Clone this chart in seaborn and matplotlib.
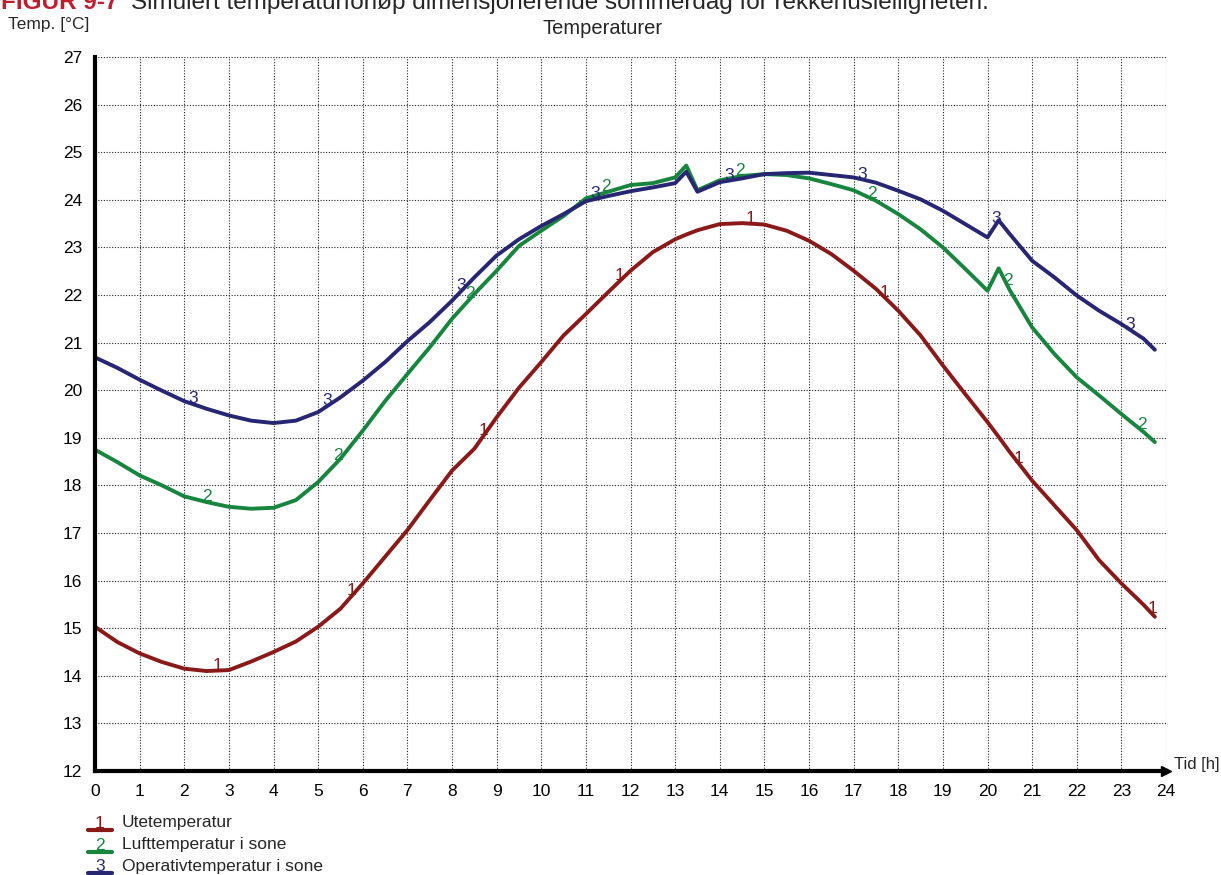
import numpy as np
import pandas as pd
import matplotlib
matplotlib.use("Agg")
import matplotlib.pyplot as plt
from matplotlib.lines import Line2D
import seaborn as sns

# ==========================================
# DATA
# ==========================================
hours = [0, 0.5, 1, 1.5, 2, 2.5, 3, 3.5, 4, 4.5, 5, 5.5, 6, 6.5, 7, 7.5, 8, 8.5,
         9, 9.5, 10, 10.5, 11, 11.5, 12, 12.5, 13, 13.25, 13.5, 14, 14.5, 15, 15.5,
         16, 16.5, 17, 17.5, 18, 18.5, 19, 19.5, 20, 20.25, 20.5, 21, 21.5, 22,
         22.5, 23, 23.5, 23.75]

ute = [15.03, 14.71, 14.47, 14.29, 14.15, 14.10, 14.12, 14.30, 14.50, 14.72, 15.03,
       15.41, 15.94, 16.50, 17.06, 17.69, 18.31, 18.77, 19.43, 20.05, 20.59, 21.15,
       21.60, 22.06, 22.51, 22.90, 23.17, 23.27, 23.36, 23.49, 23.51, 23.48, 23.35,
       23.14, 22.86, 22.51, 22.13, 21.67, 21.15, 20.52, 19.92, 19.33, 19.02, 18.70,
       18.10, 17.58, 17.06, 16.43, 15.94, 15.49, 15.24]

luft = [18.75, 18.49, 18.21, 18.00, 17.77, 17.65, 17.55, 17.51, 17.53, 17.69, 18.07,
        18.56, 19.15, 19.77, 20.34, 20.90, 21.50, 22.02, 22.51, 23.03, 23.35, 23.66,
        24.03, 24.17, 24.31, 24.35, 24.47, 24.72, 24.20, 24.41, 24.50, 24.54, 24.52,
        24.45, 24.33, 24.20, 23.98, 23.70, 23.38, 23.00, 22.55, 22.09, 22.56, 22.10,
        21.32, 20.76, 20.27, 19.89, 19.50, 19.12, 18.91]

operativ = [20.69, 20.47, 20.22, 19.99, 19.77, 19.61, 19.47, 19.36, 19.31, 19.36, 19.54,
            19.85, 20.20, 20.59, 21.03, 21.43, 21.88, 22.37, 22.83, 23.17, 23.45, 23.70,
            23.97, 24.08, 24.18, 24.26, 24.35, 24.59, 24.17, 24.37, 24.45, 24.54, 24.56,
            24.57, 24.52, 24.47, 24.36, 24.19, 24.01, 23.77, 23.49, 23.21, 23.57, 23.28,
            22.72, 22.37, 21.99, 21.67, 21.39, 21.08, 20.85]

series_names = ['Utetemperatur', 'Lufttemperatur i sone', 'Operativtemperatur i sone']
series_ids = ['1', '2', '3']
colors = ['#8a1a1a', '#17853e', '#262673']

# hours where the small curve numbers are written
label_hours = [
    [2.75, 5.75, 8.7, 11.75, 14.7, 17.7, 20.7, 23.7],
    [2.5, 5.45, 8.4, 11.45, 14.45, 17.4, 20.45, 23.45],
    [2.2, 5.2, 8.2, 11.2, 14.2, 17.2, 20.2, 23.2],
]

df = pd.DataFrame({
    'Tid': hours * 3,
    'Temp': ute + luft + operativ,
    'Serie': [series_names[0]] * len(hours) + [series_names[1]] * len(hours)
             + [series_names[2]] * len(hours),
})

# ==========================================
# PLOT
# ==========================================
sns.set_style('white')
plt.rcParams['font.family'] = ['Liberation Sans', 'DejaVu Sans']

W, H = 1221, 875
fig = plt.figure(figsize=(W / 100, H / 100), dpi=100)
ax = fig.add_axes([95 / W, 1 - 771 / H, (1166 - 95) / W, (771 - 57) / H])

sns.lineplot(data=df, x='Tid', y='Temp', hue='Serie', hue_order=series_names,
             palette=colors, linewidth=2.8, legend=False, ax=ax, sort=True)

# curve numbers
for vals, hs, sid, c in zip([ute, luft, operativ], label_hours, series_ids, colors):
    for h in hs:
        ax.text(h, np.interp(h, hours, vals) + 0.02, sid, color=c, fontsize=12.5,
                ha='center', va='baseline')

ax.set_xlim(0, 24)
ax.set_ylim(12, 27)
ax.set_xticks(range(0, 25))
ax.set_yticks(range(12, 28))
ax.set_xlabel('')
ax.set_ylabel('')
ax.grid(True, color='#222222', linestyle=(0, (1, 1.5)), linewidth=0.8)
ax.set_axisbelow(True)
for s in ['top', 'right']:
    ax.spines[s].set_visible(False)
for s in ['left', 'bottom']:
    ax.spines[s].set_linewidth(3)
    ax.spines[s].set_color('black')
ax.tick_params(direction='inout', length=12, width=3, labelsize=12.5, pad=3,
               colors='black')
ax.plot(1, 0, marker='>', color='black', markersize=7, transform=ax.transAxes,
        clip_on=False)

# texts around the axes
fig.text(8 / W, 1 - 25 / H, 'Temp. [°C]', fontsize=12.5, va='center')
fig.text(603 / W, 1 - 28 / H, 'Temperaturer', fontsize=14.5, ha='center', va='center')
fig.text(1174 / W, 1 - 765 / H, 'Tid [h]', fontsize=12, va='center')
fig.text(1 / W, 1 - 9 / H, 'FIGUR 9-7', fontsize=17.5, fontweight='bold',
         color='#be1e2d', va='baseline')
fig.text(131 / W, 1 - 9 / H,
         'Simulert temperaturforløp dimensjonerende sommerdag for rekkehusleiligheten.',
         fontsize=17.5, va='baseline')

# legend below the chart
for i, (name, sid, c) in enumerate(zip(series_names, series_ids, colors)):
    yc = 823 + i * 21.5
    fig.add_artist(Line2D([88 / W, 112 / W], [1 - (yc + 7) / H] * 2, color=c,
                          linewidth=3, transform=fig.transFigure))
    fig.text(100 / W, 1 - (yc + 5) / H, sid, color=c, fontsize=12.5, ha='center',
             va='baseline')
    fig.text(122 / W, 1 - yc / H, name, fontsize=12.5, va='center')

fig.savefig('out.png', dpi=100)
